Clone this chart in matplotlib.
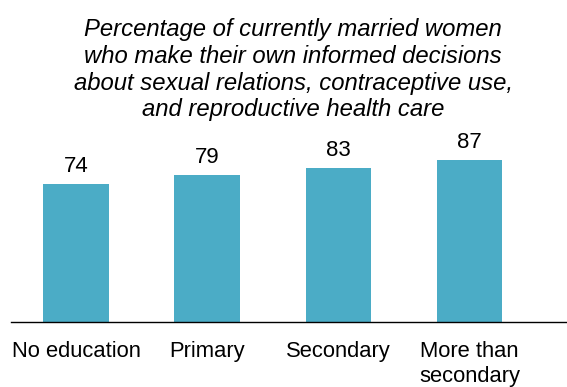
import matplotlib.pyplot as plt

plt.rcParams['font.family'] = ['Liberation Sans', 'DejaVu Sans']

# Data
categories = ['No education', 'Primary', 'Secondary', 'More than\nsecondary']
values = [74, 79, 83, 87]
title = ('Percentage of currently married women\n'
         'who make their own informed decisions\n'
         'about sexual relations, contraceptive use,\n'
         'and reproductive health care')

BAR_COLOR = '#4BACC6'

fig = plt.figure(figsize=(5.67, 3.87), dpi=100)
ax = fig.add_axes([11 / 567, 65 / 387, 556 / 567, 186 / 387])

x = range(len(categories))
bars = ax.bar(x, values, width=0.5, color=BAR_COLOR)

for rect, v in zip(bars, values):
    ax.annotate(str(v), (rect.get_x() + rect.get_width() / 2, rect.get_height()),
                xytext=(0, 5), textcoords='offset points',
                ha='center', va='bottom', fontsize=16)

ax.set_xlim(-0.496, 3.744)
ax.set_ylim(0, 100)
ax.set_xticks(list(x))
ax.set_xticklabels(categories, fontsize=15.8, linespacing=1.2)
ax.tick_params(axis='x', length=0, pad=14)
ax.set_yticks([])
for side in ['top', 'right', 'left']:
    ax.spines[side].set_visible(False)
ax.spines['bottom'].set_linewidth(1.0)

fig.text(293 / 567, 1 - 18 / 387, title, ha='center', va='top',
         fontsize=17.2, style='italic', linespacing=1.21)

fig.savefig('out.png', dpi=100)
